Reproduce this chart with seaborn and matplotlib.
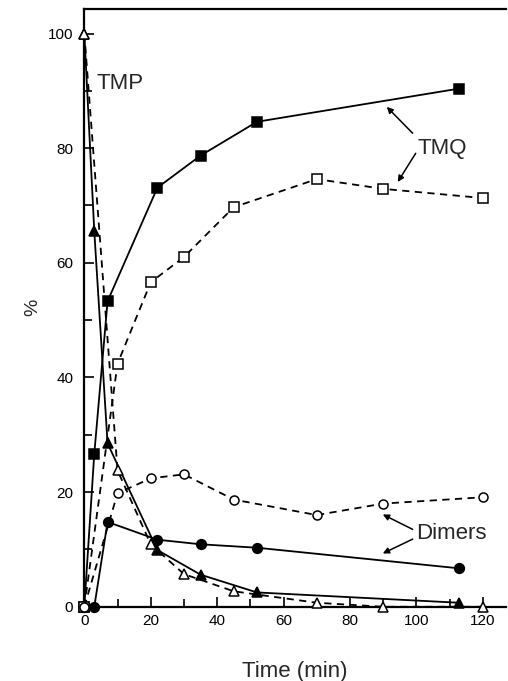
import numpy as np
import pandas as pd
import seaborn as sns
import matplotlib.pyplot as plt

# times (min) for the two runs
t_fill = [0, 3, 7, 22, 35, 52, 113]
t_open = [0, 10, 20, 30, 45, 70, 90, 120]

# filled symbols, solid lines
tmq_fill = [0, 26.7, 53.3, 73.1, 78.7, 84.6, 90.4]
tmp_fill = [100, 65.5, 28.5, 9.9, 5.6, 2.5, 0.7]
dim_fill = [0, 0, 14.8, 11.7, 10.9, 10.3, 6.7]

# open symbols, dashed lines
tmq_open = [0, 42.4, 56.6, 61.0, 69.7, 74.6, 72.9, 71.3]
tmp_open = [100, 23.8, 10.9, 5.7, 2.7, 0.7, 0, 0]
dim_open = [0, 19.8, 22.4, 23.1, 18.7, 16.0, 18.0, 19.1]

sns.set_style('ticks')
plt.rcParams['font.family'] = ['Liberation Sans', 'DejaVu Sans']

fig = plt.figure(figsize=(5.08, 6.81), dpi=100)
ax = fig.add_axes([0.166, 0.109, 0.830, 0.878])

series = [
    (t_fill, tmq_fill, 's', 'black', '-'),
    (t_fill, tmp_fill, '^', 'black', '-'),
    (t_fill, dim_fill, 'o', 'black', '-'),
    (t_open, tmq_open, 's', 'white', '--'),
    (t_open, tmp_open, '^', 'white', '--'),
    (t_open, dim_open, 'o', 'white', '--'),
]
for t, y, mk, fc, ls in series:
    ms = 7 if fc == 'black' else 6.5
    sns.lineplot(x=t, y=y, ax=ax, color='black', linewidth=1.3,
                 linestyle=ls, marker=mk, markersize=ms,
                 markerfacecolor=fc, markeredgecolor='black',
                 markeredgewidth=1.1, clip_on=False, zorder=3)
    if ls == '--':
        ax.lines[-1].set_dashes([4, 3])

ax.set_xlim(0, 127)
ax.set_ylim(0, 104.3)
ax.set_xticks(range(0, 121, 20))
ax.set_xticks(range(0, 121, 10), minor=True)
ax.set_yticks(range(0, 101, 20))
ax.set_yticks(range(0, 101, 10), minor=True)
ax.tick_params(which='both', direction='in', width=1.2, labelsize=11,
               colors='black')
ax.tick_params(which='major', length=7)
ax.tick_params(which='minor', length=6)
ax.tick_params(axis='x', which='major', pad=5)
ax.tick_params(axis='y', which='major', pad=8)

for side in ['left', 'bottom', 'top']:
    ax.spines[side].set_linewidth(1.6)
    ax.spines[side].set_color('black')
ax.spines['right'].set_visible(False)

ax.set_xlabel('Time (min)', fontsize=16, labelpad=24)
ax.set_ylabel('%', fontsize=14, labelpad=5)

ax.text(3.8, 91.3, 'TMP', fontsize=16, va='center', ha='left')
ax.text(100.5, 80, 'TMQ', fontsize=16, va='center', ha='left')
ax.text(99.8, 12.7, 'Dimers', fontsize=16, va='center', ha='left')

arrow = dict(arrowstyle='-|>', color='black', lw=1.1, mutation_scale=9,
             shrinkA=0, shrinkB=0)
ax.annotate('', xy=(91.1, 87.2), xytext=(98.9, 82.6), arrowprops=arrow)
ax.annotate('', xy=(94.4, 74.1), xytext=(99.8, 79.1), arrowprops=arrow)
ax.annotate('', xy=(89.9, 16.1), xytext=(98.9, 13.5), arrowprops=arrow)
ax.annotate('', xy=(89.9, 9.3), xytext=(98.9, 11.8), arrowprops=arrow)

fig.savefig('out.png', dpi=100)
